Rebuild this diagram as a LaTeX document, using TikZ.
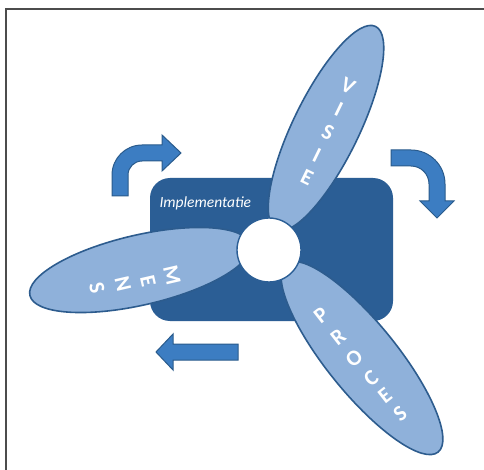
\documentclass[tikz,border=0pt]{standalone}
\usepackage{fontspec}
\setmainfont{Carlito}
\begin{document}
\begin{tikzpicture}[x=1pt,y=-1pt]
\definecolor{boxblue}{HTML}{2B5E95}
\definecolor{bladefill}{HTML}{8FB1DA}
\definecolor{bladeline}{HTML}{2D5C8E}
\definecolor{arrowfill}{HTML}{3C7DC2}
\definecolor{arrowline}{HTML}{2A5B8C}
\tikzset{
  blade/.style={fill=bladefill, draw=bladeline, line width=1.6pt},
  bentarrow/.style={fill=arrowfill, draw=arrowline, line width=1pt, line join=miter},
  letter/.style={text=white, font=\fontsize{22}{22}\selectfont\bfseries, inner sep=0pt},
}
\fill[white] (0,0) rectangle (484,470);
\useasboundingbox (0,0) rectangle (484,470);
% frame
\draw[line width=2pt, color=black!70] (6,470) -- (6,9) -- (484,9);
% implementation box
\node[fill=boxblue, rounded corners=20pt, minimum width=243pt, minimum height=143pt, inner sep=0pt] (box) at (271.5,249.5) {};
\node[text=white, font=\fontsize{15.5}{15.5}\selectfont\itshape, anchor=west] (impl) at (156,203) {Implementatie};
% blades
\draw[blade, rotate around={64:(326,128)}] (326,128) ellipse [x radius=113pt, y radius=33pt];
\draw[blade, rotate around={13:(140,270)}] (140,270) ellipse [x radius=113pt, y radius=35pt];
\draw[blade, rotate around={-51:(362,358)}] (362,358) ellipse [x radius=121pt, y radius=35pt];
% hub
\node[circle, fill=white, draw=boxblue, line width=1.4pt, minimum size=64pt, inner sep=0pt] (hub) at (269,250) {};
% letters
\node[letter, rotate=-26] (v1) at (348,86) {V};
\node[letter, rotate=-26] (v2) at (339,109) {I};
\node[letter, rotate=-26] (v3) at (328,132) {S};
\node[letter, rotate=-26] (v4) at (317,155) {I};
\node[letter, rotate=-26] (v5) at (307,177) {E};
\node[letter, rotate=-77] (m1) at (172,275) {M};
\node[letter, rotate=-77] (m2) at (148,281) {E};
\node[letter, rotate=-77] (m3) at (123,284) {N};
\node[letter, rotate=-77] (m4) at (97,288) {S};
\node[letter, rotate=38] (p1) at (321,315) {P};
\node[letter, rotate=38] (p2) at (338,337) {R};
\node[letter, rotate=38] (p3) at (354,358) {O};
\node[letter, rotate=38] (p4) at (371,378) {C};
\node[letter, rotate=38] (p5) at (385,396) {E};
\node[letter, rotate=38] (p6) at (400,414) {S};
% arrows
\draw[bentarrow] (112,196) -- (112,175) .. controls (112,158.43) and (125.43,145) .. (142,145) -- (162,145) -- (162,135) -- (181,153) -- (162,171) -- (162,161) -- (142,161) .. controls (134.27,161) and (128,167.27) .. (128,175) -- (128,196) -- cycle;
\draw[bentarrow] (391,150) -- (411,150) .. controls (429.78,150) and (445,165.22) .. (445,184) -- (445,201) -- (454,201) -- (437,218) -- (420,201) -- (429,201) -- (429,184) .. controls (429,174.06) and (420.94,166) .. (411,166) -- (391,166) -- cycle;
\draw[bentarrow] (238,344) -- (173,344) -- (173,334) -- (156,352) -- (173,370) -- (173,360) -- (238,360) -- cycle;
\end{tikzpicture}
\end{document}
